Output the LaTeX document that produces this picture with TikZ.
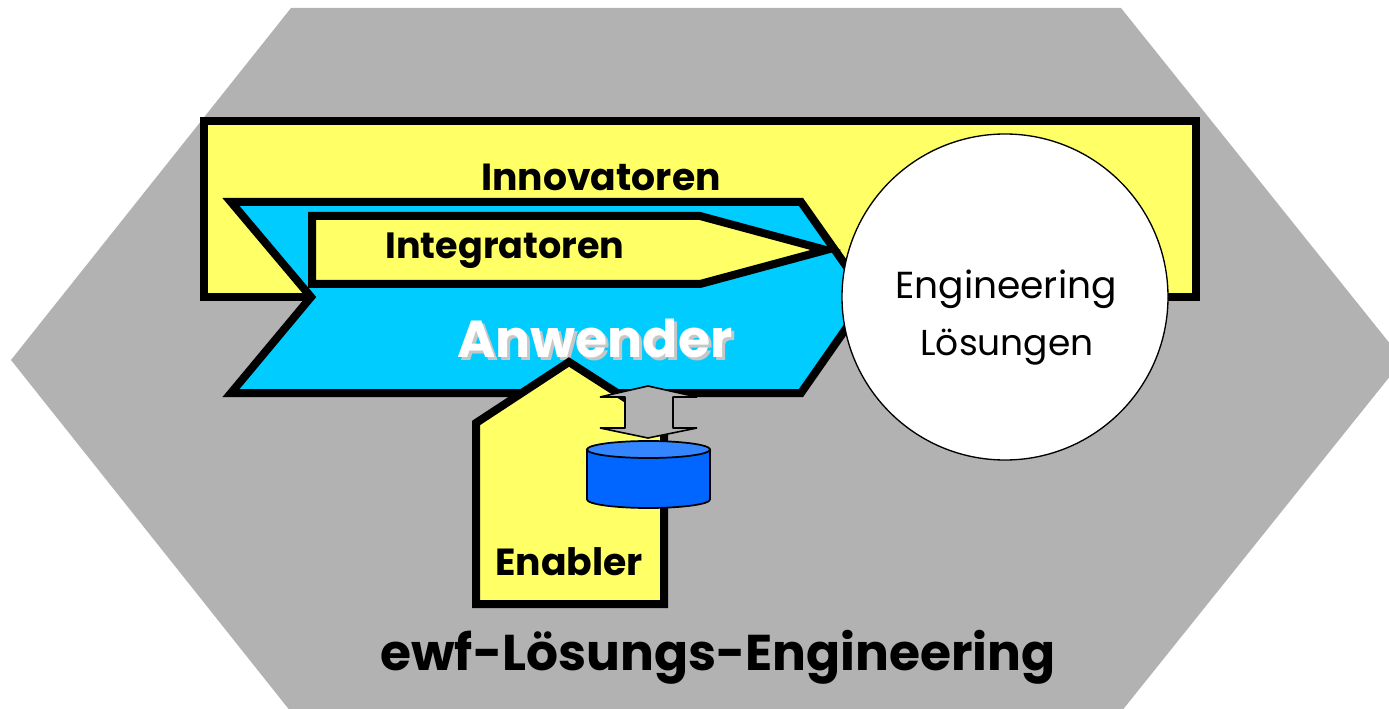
\documentclass[tikz,border=0pt]{standalone}
\usepackage{fontspec}
\setmainfont{Poppins}
\definecolor{hexgray}{RGB}{178,178,178}
\definecolor{boxyellow}{RGB}{255,255,102}
\definecolor{anwblue}{RGB}{0,204,255}
\definecolor{cylblue}{RGB}{0,102,255}
\definecolor{cyltop}{RGB}{51,134,255}
\tikzset{
  thickline/.style={draw=black,line width=6pt,miter limit=10},
  boldtext/.style={font=\fontsize{#1}{#1}\selectfont\bfseries,inner sep=0pt},
  plaintext/.style={font=\fontsize{#1}{#1}\selectfont,inner sep=0pt},
}
\begin{document}
\begin{tikzpicture}[x=0.75pt,y=-0.75pt]
\useasboundingbox (0,0) rectangle (1389,709);
\clip (0,0) rectangle (1389,709);
\fill[white] (0,0) rectangle (1389,709);
\fill[hexgray] (291,8) -- (1121,8) -- (1403,360) -- (1121,712) -- (291,712) -- (11,360) -- cycle;
\draw[thickline,fill=boxyellow] (204,121) rectangle (1195.5,297);
\node[boldtext=28.3] (innovatoren) at (601,177) {Innovatoren};
\draw[thickline,fill=anwblue] (231,202) -- (801,202) -- (868,297) -- (801,393) -- (231,393) -- (311,297) -- cycle;
\draw[thickline,fill=boxyellow] (312,216) -- (700,216) -- (826,250) -- (700,284) -- (312,284) -- cycle;
\node[boldtext=27.4] (integratoren) at (505,250.5) {Integratoren};
\node[boldtext=39,text=black!22] (anwschatten) at (598,341) {Anwender};
\node[boldtext=39,text=white] (anwender) at (595,338) {Anwender};
\draw[thickline,fill=boxyellow] (476,604) -- (476,423) -- (569,362) -- (664,423) -- (664,604) -- cycle;
\node[boldtext=28.3] (enabler) at (569,562) {Enabler};
\draw[black,line width=1.2pt,line join=bevel,fill=hexgray] (648,386) -- (697,397) -- (673,397) -- (673,428) -- (697,428) -- (648,438) -- (600,428) -- (625,428) -- (625,397) -- (600,397) -- cycle;
\draw[black,line width=1.3pt,fill=cylblue] (587,449.5) -- (587,499.5) arc[start angle=180,end angle=0,x radius=61.5,y radius=8.5] -- (710,449.5) -- cycle;
\draw[black,line width=1.3pt,fill=cyltop] (648.5,449.5) ellipse[x radius=61.5,y radius=8.5];
\draw[black,line width=1pt,fill=white] (1005,297) circle[radius=163];
\node[plaintext=28.2] (engineering) at (1006,289) {Engineering};
\node[plaintext=27] (loesungen) at (1007,347) {Lösungen};
\node[boldtext=37.7] (titel) at (718,657) {ewf-Lösungs-Engineering};
\end{tikzpicture}
\end{document}
